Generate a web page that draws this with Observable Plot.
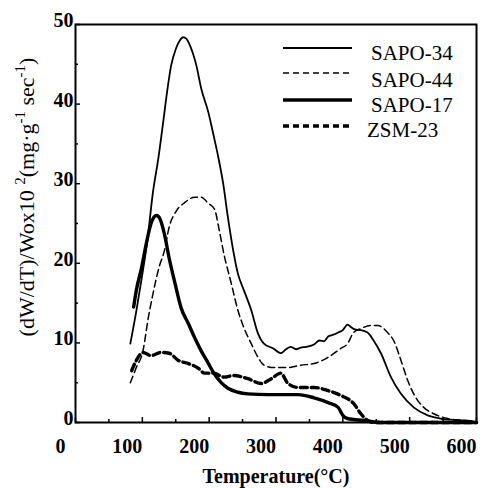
<!DOCTYPE html>
<html><head><meta charset="utf-8">
<script src="https://cdn.jsdelivr.net/npm/d3@7"></script>
<script src="https://cdn.jsdelivr.net/npm/@observablehq/plot@0.6"></script>
<style>
body{margin:0;background:#fff;}
#wrap{width:482px;height:488px;}
</style></head><body><div id="wrap"></div>
<script>
const seriesNames = ["SAPO-34", "SAPO-44", "SAPO-17", "ZSM-23"];

const sapo34T = [82,91,99,107,116,124,131,137,143,150,156,161,166,170,181,188,199,206,213,221,228,236,243,252,263,273,282,296,307,315,322,330,337,345,357,365,372,378,385,393,400,407,412,418,427,437,446,457,472,487,506,527,546,572,591,600];
const sapo34V = [9.9,14.0,18.1,22.5,29.0,33.2,37.6,41.5,44.8,46.9,48.0,48.4,48.2,47.6,44.8,42.0,38.9,36.3,33.6,30.0,25.8,21.6,18.7,16.6,14.1,11.2,9.9,9.3,8.7,9.2,9.5,9.2,9.4,9.5,9.8,10.3,10.2,10.8,11.0,11.3,11.6,12.3,12.0,11.7,11.6,11.3,10.3,8.7,5.7,3.6,1.9,0.9,0.5,0.3,0.2,0];

const sapo44T = [82,91,101,109,116,125,133,140,151,163,178,188,199,208,215,222,233,243,252,263,273,282,297,318,337,357,378,397,407,416,427,442,452,467,476,487,497,506,521,536,557,576,591,600];
const sapo44V = [5.0,6.9,9.0,13.2,16.2,19.5,21.6,24.5,26.6,27.6,28.3,28.3,27.5,26.8,24.2,21.2,17.5,14.1,11.9,9.9,8.2,7.2,6.9,6.9,7.2,7.4,8.2,9.3,9.9,11.3,11.8,12.2,12.2,11.3,10.3,7.8,5.3,3.6,1.9,1.1,0.5,0.3,0.2,0];

const sapo17T = [87,91,99,106,113,121,125,133,140,148,158,169,178,188,199,207,218,228,243,258,288,333,357,378,393,400,407,431,457,600];
const sapo17V = [14.5,16.6,19.5,22.5,25.0,26.0,25.8,23.7,20.7,17.8,14.4,12.4,10.7,9.0,7.4,6.2,5.0,4.3,3.8,3.6,3.5,3.5,3.1,2.5,1.9,0.9,0.5,0.25,0,0];

const zsm23T = [84,91,101,113,128,140,154,169,184,193,207,222,237,258,278,293,307,318,333,357,378,397,416,427,437,446,600];
const zsm23V = [6.5,7.8,8.8,8.4,8.8,8.7,7.8,7.4,6.8,6.2,6.2,5.7,5.9,5.5,4.9,5.5,6.2,4.9,4.4,4.4,4.0,3.4,2.4,1.1,0.25,0,0];

const xMajorTicks = [0,100,200,300,400,500,600];
const xMinorTicks = [50,150,250,350,450,550];
const yMajorTicks = [0,10,20,30,40,50];
const yMinorTicks = [5,15,25,35,45];
const xTitle = "Temperature(°C)";

const seriesData = [
  [seriesNames[0], sapo34T, sapo34V],
  [seriesNames[1], sapo44T, sapo44V],
  [seriesNames[2], sapo17T, sapo17V],
  [seriesNames[3], zsm23T, zsm23V]
];
const rows = [];
seriesData.forEach(([s, ts, vs]) => ts.forEach((t, i) => rows.push({series: s, T: t, V: vs[i]})));

const styleOf = {
  "SAPO-34": {w: 1.8, dash: null},
  "SAPO-44": {w: 1.5, dash: "7,4"},
  "SAPO-17": {w: 3.4, dash: null},
  "ZSM-23": {w: 3.4, dash: "7,4"}
};

const serif = "'Liberation Serif','Times New Roman',Times,serif";

const plot = Plot.plot({
  width: 482, height: 488,
  marginLeft: 75, marginRight: 6, marginTop: 24, marginBottom: 66,
  x: {domain: [0, 600]},
  y: {domain: [0, 50]},
  style: {fontFamily: serif, background: "#fff", color: "#000"},
  marks: [
    ...seriesNames.map(n => Plot.line(rows.filter(r => r.series === n), {
      x: "T", y: "V", stroke: "#000", strokeWidth: styleOf[n].w,
      strokeDasharray: styleOf[n].dash, curve: "monotone-x"
    })),
    Plot.frame({stroke: "#000", strokeWidth: 2}),
    Plot.axisX({ticks: xMajorTicks, tickSize: 5, dy: -5, text: null, label: null, strokeWidth: 1.5}),
    Plot.axisX({ticks: xMinorTicks, tickSize: 3, dy: -3, text: null, label: null, strokeWidth: 1.5}),
    Plot.axisX({ticks: xMajorTicks, tickSize: 0, tickPadding: 16, dx: -15, fontSize: 20, fontWeight: "bold", label: null}),
    Plot.axisY({ticks: yMajorTicks, tickSize: 5, dx: 5, text: null, label: null, strokeWidth: 1.5}),
    Plot.axisY({ticks: yMinorTicks, tickSize: 3, dx: 3, text: null, label: null, strokeWidth: 1.5}),
    Plot.axisY({ticks: yMajorTicks, tickSize: 0, tickPadding: 2, dy: -4, fontSize: 20, fontWeight: "bold", label: null}),
    Plot.text([xTitle], {text: d => d, frameAnchor: "bottom", dy: 60, lineAnchor: "bottom", fontSize: 20, fontWeight: "bold"})
  ]
});
document.getElementById("wrap").appendChild(plot);

const svg = d3.select(plot);

// y-axis title with superscripts
const yt = svg.append("text")
  .attr("transform", "translate(34,197) rotate(-90)")
  .attr("text-anchor", "middle")
  .attr("font-family", serif)
  .attr("font-size", 22)
  .attr("fill", "#000");
yt.append("tspan").text("(dW/dT)/Wox10 ");
yt.append("tspan").attr("font-size", 15).attr("dy", -9).text("2");
yt.append("tspan").attr("dy", 9).text("(mg·g");
yt.append("tspan").attr("font-size", 15).attr("dy", -9).text("-1");
yt.append("tspan").attr("dy", 9).text(" sec");
yt.append("tspan").attr("font-size", 15).attr("dy", -9).text("-1");
yt.append("tspan").attr("dy", 9).text(")");

// legend inside the plot
const lg = svg.append("g").attr("font-family", serif).attr("font-size", 21).attr("text-anchor", "start");
seriesNames.forEach((n, i) => {
  const ly = [48, 73, 100, 126][i];
  const ty = [60, 87, 112, 137][i];
  lg.append("line").attr("x1", 283).attr("x2", 352).attr("y1", ly).attr("y2", ly)
    .attr("stroke", "#000").attr("stroke-width", styleOf[n].w)
    .attr("stroke-dasharray", styleOf[n].dash ? "6,4" : null);
  lg.append("text").attr("x", i === 3 ? 367 : 371).attr("y", ty).attr("text-anchor", "start").text(n);
});
</script></body></html>
